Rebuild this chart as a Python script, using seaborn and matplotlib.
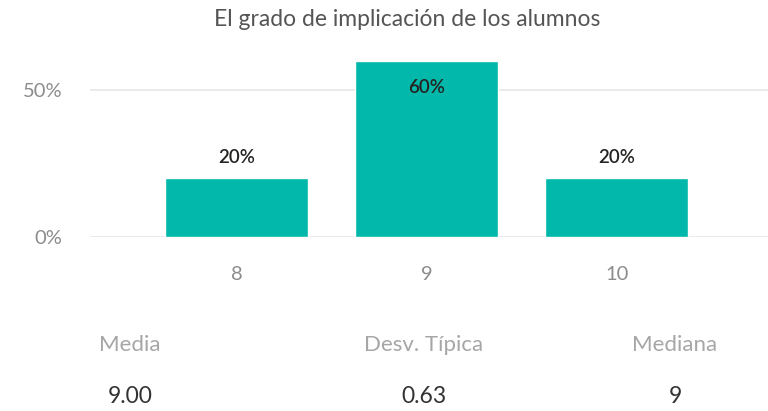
import pandas as pd
import seaborn as sns
import matplotlib.pyplot as plt

categories = ['8', '9', '10']
shares = [0.20, 0.60, 0.20]
stat_names = ['Media', 'Desv. Típica', 'Mediana']
stat_values = ['9.00', '0.63', '9']

df = pd.DataFrame({'nota': categories, 'pct': shares})

sns.set_style('white')
plt.rcParams['font.family'] = ['Lato', 'DejaVu Sans']

fig = plt.figure(figsize=(7.68, 4.11), dpi=100)
ax = fig.add_axes([90 / 768, (411 - 237) / 411, 1 - 90 / 768, (237 - 60.6) / 411])

sns.barplot(data=df, x='nota', y='pct', color='#01B8AA', saturation=1, width=0.75, ax=ax)

ax.set_xlim(-0.771, 2.797)
ax.set_ylim(0, 0.6)
ax.set_yticks([0, 0.5])
ax.set_yticklabels(['0%', '50%'])
ax.yaxis.grid(True, color='#e6e6e6', linewidth=1.2)
ax.set_axisbelow(True)
sns.despine(ax=ax, left=True, bottom=True)
ax.tick_params(axis='both', length=0, labelsize=14.5, colors='#8c8c8c')
ax.tick_params(axis='x', pad=21)
ax.tick_params(axis='y', pad=20)
ax.set_xlabel('')
ax.set_ylabel('')

for i, v in enumerate(shares):
    txt = f'{v * 100:.0f}%'
    if v > 0.5:
        ax.text(i, v - 0.09, txt, ha='center', va='center', fontsize=13.5, color='#252423', fontweight='semibold')
    else:
        ax.text(i, v + 0.07, txt, ha='center', va='center', fontsize=13.5, color='#252423', fontweight='semibold')

fig.text(407 / 768, 1 - 20 / 411, 'El grado de implicación de los alumnos', ha='center', va='center',
         fontsize=16.5, color='#555555')

name_x = [130, 424, 675]
for x, name, val in zip(name_x, stat_names, stat_values):
    fig.text(x / 768, 1 - 345 / 411, name, ha='center', va='center', fontsize=16, color='#a6a6a6')
    fig.text(x / 768, 1 - 396 / 411, val, ha='center', va='center', fontsize=16.5, color='#333333')

fig.savefig('out.png', dpi=100)
